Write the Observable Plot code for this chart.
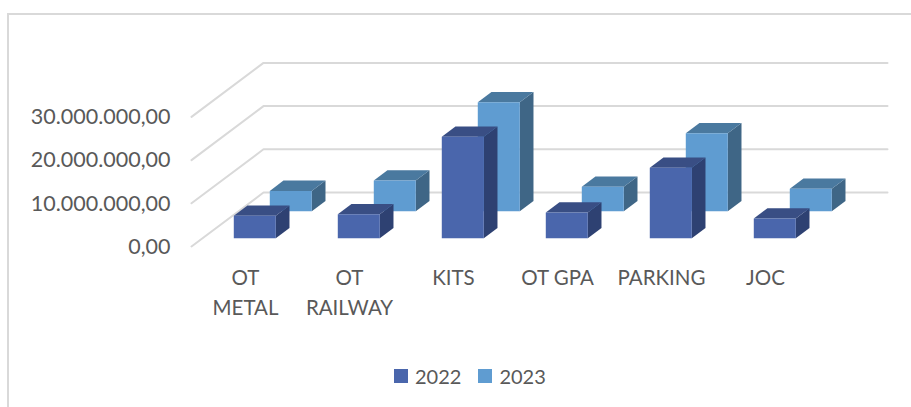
<!DOCTYPE html>
<html>
<head>
<meta charset="utf-8">
<script src="https://cdn.jsdelivr.net/npm/d3@7"></script>
<script src="https://cdn.jsdelivr.net/npm/@observablehq/plot@0.6"></script>
<style>
html, body { margin: 0; padding: 0; background: #fff; }
#frame { position: absolute; left: 7px; top: 13px; width: 904px; height: 394px; border-left: 2px solid #d9d9d9; border-top: 2px solid #d9d9d9; box-sizing: border-box; }
#chart { position: absolute; left: 0; top: 0; }
#legend { position: absolute; left: 394px; top: 363px; display: flex; align-items: center; height: 26px; font: 20px Lato, sans-serif; color: #595959; }
#legend i { display: block; width: 14px; height: 14px; margin-right: 7px; }
#legend span { margin-right: 17px; }
</style>
</head>
<body>
<div id="frame"></div>
<div id="chart"></div>
<div id="legend"></div>
<script>
const categories = ["OT\nMETAL", "OT\nRAILWAY", "KITS", "OT GPA", "PARKING", "JOC"];
const values2022 = [5200000, 5550000, 23500000, 5950000, 16300000, 4560000];
const values2023 = [4700000, 7100000, 25200000, 5650000, 18050000, 5200000];
const yTicks = [0, 10000000, 20000000, 30000000];

// Oblique projection of the chart's depth axis, in data units.
const depthX = 72 / 104;
const depthY = 12500000;
const barStart = 0.3, barWidth = 0.404;
const series = [
  {name: "2023", values: values2023, d0: 0.654, d1: 0.844},
  {name: "2022", values: values2022, d0: 0.154, d1: 0.344}
];

const colors = {
  "2022 front": "#4a66ac", "2022 top": "#394e84", "2022 side": "#2e4172",
  "2023 front": "#5f9cd1", "2023 top": "#4a799f", "2023 side": "#3f6686"
};

const project = (x, v, d) => ({x: x + d * depthX, y: v + d * depthY});

const grid = yTicks.flatMap((t) => [
  {t, ...project(0, t, 0)},
  {t, ...project(0, t, 1)},
  {t, ...project(categories.length, t, 1)}
]);

function faces(s) {
  return s.values.flatMap((v, i) => {
    const a = i + barStart, b = a + barWidth;
    const poly = (face, pts) => pts.map(([x, val, d]) => ({key: `${s.name}-${i}-${face}`, face: `${s.name} ${face}`, ...project(x, val, d)}));
    return [
      ...poly("side", [[b, 0, s.d0], [b, 0, s.d1], [b, v, s.d1], [b, v, s.d0]]),
      ...poly("top", [[a, v, s.d0], [a, v, s.d1], [b, v, s.d1], [b, v, s.d0]]),
      ...poly("front", [[a, 0, s.d0], [a, v, s.d0], [b, v, s.d0], [b, 0, s.d0]])
    ];
  });
}

const fmt = (v) => v === 0 ? "0,00" : d3.format(",")(v).replace(/,/g, ".") + ",00";
const font = "Lato, sans-serif";

const plot = Plot.plot({
  width: 911,
  height: 407,
  marginLeft: 191,
  marginRight: 24,
  marginTop: 62.4,
  marginBottom: 161,
  style: {fontFamily: font, fontSize: "21.5px", color: "#595959", background: "transparent", overflow: "visible"},
  x: {domain: [0, categories.length + depthX], axis: null},
  y: {domain: [0, 30000000 + depthY], axis: null},
  color: {domain: Object.keys(colors), range: Object.values(colors)},
  marks: [
    Plot.line(grid, {x: "x", y: "y", z: "t", stroke: "#d9d9d9", strokeWidth: 2}),
    Plot.axisY({ticks: yTicks, tickFormat: fmt, tickSize: 0, tickPadding: 21, dy: 0.5, label: null, fill: "#595959", fontSize: 21.5}),
    Plot.axisX({
      ticks: categories.map((_, i) => i + 0.5),
      tickFormat: (t) => categories[Math.floor(t)],
      tickSize: 0, tickPadding: 17, dx: 2, label: null, lineHeight: 1.46, fill: "#595959", fontSize: 20.5
    }),
    ...series.map((s) => Plot.line(faces(s), {x: "x", y: "y", z: "key", fill: "face", stroke: null, curve: "linear-closed"}))
  ]
});
document.getElementById("chart").appendChild(plot);

const legend = d3.select("#legend");
for (const name of ["2022", "2023"]) {
  legend.append("i").style("background", colors[`${name} front`]);
  legend.append("span").text(name);
}
</script>
</body>
</html>
